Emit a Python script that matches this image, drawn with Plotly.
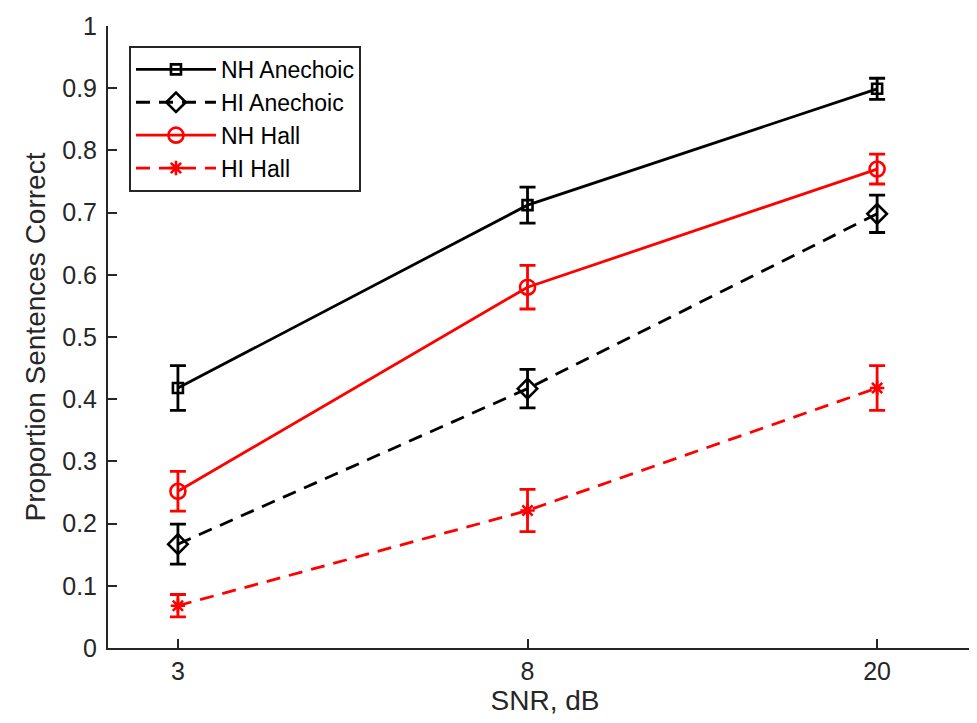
import plotly.graph_objects as go

snr_labels = ["3", "8", "20"]

nh_anechoic = [0.418, 0.712, 0.899]
nh_anechoic_err = [0.036, 0.029, 0.017]
hi_anechoic = [0.167, 0.417, 0.698]
hi_anechoic_err = [0.032, 0.031, 0.030]
nh_hall = [0.252, 0.580, 0.770]
nh_hall_err = [0.032, 0.035, 0.024]
hi_hall = [0.068, 0.221, 0.418]
hi_hall_err = [0.018, 0.034, 0.036]

y_ticks = [0, 0.1, 0.2, 0.3, 0.4, 0.5, 0.6, 0.7, 0.8, 0.9, 1]
y_ticktext = ["0", "0.1", "0.2", "0.3", "0.4", "0.5", "0.6", "0.7", "0.8", "0.9", "1"]

series = [
    ("NH Anechoic", nh_anechoic, nh_anechoic_err, "black", "solid", "square-open", 10),
    ("HI Anechoic", hi_anechoic, hi_anechoic_err, "black", "14px,9px", "diamond-open", 15),
    ("NH Hall", nh_hall, nh_hall_err, "#ff0000", "solid", "circle-open", 15),
    ("HI Hall", hi_hall, hi_hall_err, "#ff0000", "14px,9px", "asterisk-open", 12),
]

fig = go.Figure()
for name, vals, errs, color, dash, sym, size in series:
    fig.add_trace(go.Scatter(
        x=snr_labels, y=vals, name=name, mode="lines+markers",
        line=dict(color=color, width=2.8, dash=dash),
        marker=dict(symbol=sym, size=size, color=color, line=dict(color=color, width=2.6)),
        error_y=dict(type="data", array=errs, visible=True, color=color, thickness=2.8, width=8),
    ))

FAM = "Liberation Sans, Arial, sans-serif"
tick_font = dict(family=FAM, size=25, color="#262626")
title_font = dict(family=FAM, size=28, color="#262626")

fig.update_layout(
    width=977, height=723,
    margin=dict(l=100, r=3, t=18, b=83),
    paper_bgcolor="white", plot_bgcolor="white",
    font=tick_font,
    showlegend=True,
    legend=dict(
        x=0.024, y=0.968, xanchor="left", yanchor="top",
        bgcolor="white", bordercolor="#262626", borderwidth=2,
        font=dict(family=FAM, size=23, color="black"),
        itemwidth=80, tracegroupgap=0,
    ),
    xaxis=dict(
        type="category", range=[-0.2, 2.3], automargin=False,
        showline=True, linecolor="#262626", linewidth=2, mirror=False,
        ticks="inside", ticklen=9, tickwidth=2, tickcolor="#262626",
        showgrid=False, zeroline=False,
        title=dict(text="SNR, dB", font=title_font, standoff=4),
        tickfont=tick_font,
    ),
    yaxis=dict(
        range=[0, 1], tickvals=y_ticks, ticktext=y_ticktext, automargin=False,
        showline=True, linecolor="#262626", linewidth=2, mirror=False,
        ticks="inside", ticklen=9, tickwidth=2, tickcolor="#262626",
        showgrid=False, zeroline=False, ticklabelstandoff=4,
        title=dict(text="Proportion Sentences Correct", font=title_font, standoff=8),
        tickfont=tick_font,
    ),
)

fig.write_html("out.html")
